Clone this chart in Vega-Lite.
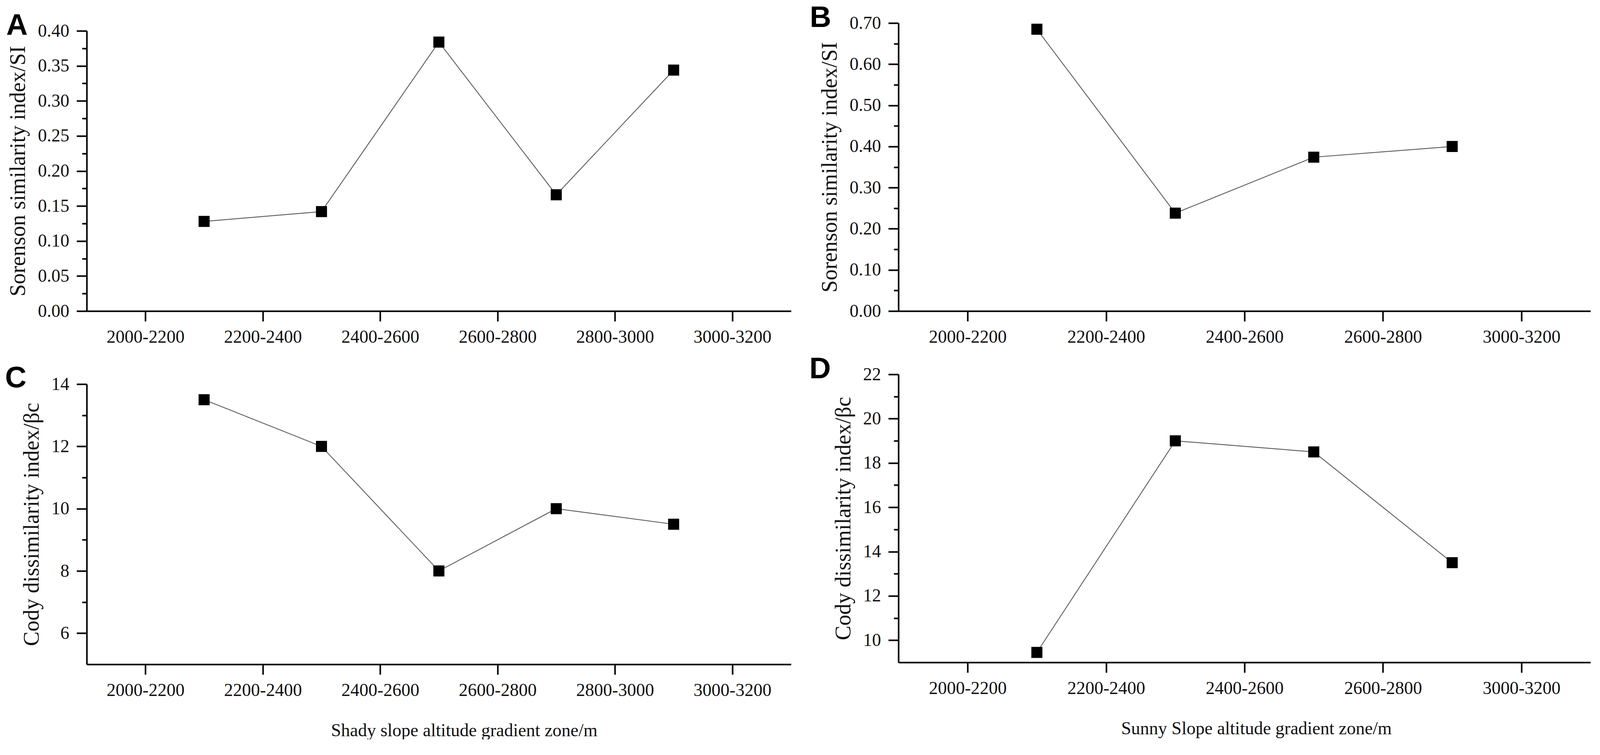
{
  "$schema": "https://vega.github.io/schema/vega-lite/v6.json",
  "background": "white",
  "padding": {"left": 13, "top": 8, "right": 0, "bottom": 0},
  "datasets": {
    "shadySI": [
      {"boundary": 2200, "value": 0.128},
      {"boundary": 2400, "value": 0.142},
      {"boundary": 2600, "value": 0.384},
      {"boundary": 2800, "value": 0.166},
      {"boundary": 3000, "value": 0.344}
    ],
    "sunnySI": [
      {"boundary": 2200, "value": 0.685},
      {"boundary": 2400, "value": 0.238},
      {"boundary": 2600, "value": 0.374},
      {"boundary": 2800, "value": 0.400}
    ],
    "shadyBeta": [
      {"boundary": 2200, "value": 13.5},
      {"boundary": 2400, "value": 12.0},
      {"boundary": 2600, "value": 8.0},
      {"boundary": 2800, "value": 10.0},
      {"boundary": 3000, "value": 9.5}
    ],
    "sunnyBeta": [
      {"boundary": 2200, "value": 9.45},
      {"boundary": 2400, "value": 19.0},
      {"boundary": 2600, "value": 18.5},
      {"boundary": 2800, "value": 13.5}
    ]
  },
  "columns": 2,
  "bounds": "flush",
  "spacing": {"row": 162, "column": 275},
  "concat": [
    {
      "width": 1803, "height": 737,
      "title": {"text": "A", "dx": -206},
      "data": {"name": "shadySI"},
      "layer": [
        {
          "mark": {"type": "line", "color": "#5a5a5a", "strokeWidth": 2.2},
          "encoding": {
            "x": {"field": "boundary", "type": "quantitative",
              "scale": {"domain": [2000, 3200], "nice": false, "zero": false},
              "axis": {"values": [2100, 2300, 2500, 2700, 2900, 3100], "labelExpr": "(datum.value - 100) + '-' + (datum.value + 100)", "title": null}},
            "y": {"field": "value", "type": "quantitative",
              "scale": {"domain": [0, 0.4], "nice": false, "zero": false, "rangeMax": 20},
              "axis": {"values": [0, 0.05, 0.1, 0.15, 0.2, 0.25, 0.3, 0.35, 0.4], "format": ".2f", "title": "Sorenson similarity index/SI"}}
          }
        },
        {
          "mark": {"type": "square", "size": 800, "color": "black", "opacity": 1, "filled": true},
          "encoding": {
            "x": {"field": "boundary", "type": "quantitative"},
            "y": {"field": "value", "type": "quantitative",
              "axis": {"orient": "left", "values": [0.025, 0.075, 0.125, 0.175, 0.225, 0.275, 0.325, 0.375], "labels": false, "domain": false, "tickSize": 12, "title": null}}
          }
        }
      ],
      "resolve": {"axis": {"y": "independent"}}
    },
    {
      "width": 1772, "height": 737,
      "title": {"text": "B", "dx": -227},
      "data": {"name": "sunnySI"},
      "layer": [
        {
          "mark": {"type": "line", "color": "#5a5a5a", "strokeWidth": 2.2},
          "encoding": {
            "x": {"field": "boundary", "type": "quantitative",
              "scale": {"domain": [2000, 3000], "nice": false, "zero": false},
              "axis": {"values": [2100, 2300, 2500, 2700, 2900], "labelExpr": "datum.value == 2900 ? '3000-3200' : (datum.value - 100) + '-' + (datum.value + 100)", "title": null}},
            "y": {"field": "value", "type": "quantitative",
              "scale": {"domain": [0, 0.7], "nice": false, "zero": false},
              "axis": {"values": [0, 0.1, 0.2, 0.3, 0.4, 0.5, 0.6, 0.7], "format": ".2f", "title": "Sorenson similarity index/SI"}}
          }
        },
        {
          "mark": {"type": "square", "size": 800, "color": "black", "opacity": 1, "filled": true},
          "encoding": {
            "x": {"field": "boundary", "type": "quantitative"},
            "y": {"field": "value", "type": "quantitative",
              "axis": {"orient": "left", "values": [0.05, 0.15, 0.25, 0.35, 0.45, 0.55, 0.65], "labels": false, "domain": false, "tickSize": 12, "title": null}}
          }
        }
      ],
      "resolve": {"axis": {"y": "independent"}}
    },
    {
      "width": 1803, "height": 742,
      "title": {"text": "C", "dx": -209},
      "data": {"name": "shadyBeta"},
      "layer": [
        {
          "mark": {"type": "line", "color": "#5a5a5a", "strokeWidth": 2.2},
          "encoding": {
            "x": {"field": "boundary", "type": "quantitative",
              "scale": {"domain": [2000, 3200], "nice": false, "zero": false},
              "axis": {"values": [2100, 2300, 2500, 2700, 2900, 3100], "labelExpr": "(datum.value - 100) + '-' + (datum.value + 100)", "title": "Shady slope altitude gradient zone/m", "titleX": 966}},
            "y": {"field": "value", "type": "quantitative",
              "scale": {"domain": [5, 14], "nice": false, "zero": false, "rangeMax": 25},
              "axis": {"values": [6, 8, 10, 12, 14], "title": "Cody dissimilarity index/βc"}}
          }
        },
        {
          "mark": {"type": "square", "size": 800, "color": "black", "opacity": 1, "filled": true},
          "encoding": {
            "x": {"field": "boundary", "type": "quantitative"},
            "y": {"field": "value", "type": "quantitative",
              "axis": {"orient": "left", "values": [7, 9, 11, 13], "labels": false, "domain": false, "tickSize": 12, "title": null}}
          }
        }
      ],
      "resolve": {"axis": {"y": "independent"}}
    },
    {
      "width": 1772, "height": 737,
      "title": {"text": "D", "dx": -228},
      "data": {"name": "sunnyBeta"},
      "layer": [
        {
          "mark": {"type": "line", "color": "#5a5a5a", "strokeWidth": 2.2},
          "encoding": {
            "x": {"field": "boundary", "type": "quantitative",
              "scale": {"domain": [2000, 3000], "nice": false, "zero": false},
              "axis": {"values": [2100, 2300, 2500, 2700, 2900], "labelExpr": "datum.value == 2900 ? '3000-3200' : (datum.value - 100) + '-' + (datum.value + 100)", "title": "Sunny Slope altitude gradient zone/m", "titleX": 916}},
            "y": {"field": "value", "type": "quantitative",
              "scale": {"domain": [9, 22], "nice": false, "zero": false},
              "axis": {"values": [10, 12, 14, 16, 18, 20, 22], "title": "Cody dissimilarity index/βc"}}
          }
        },
        {
          "mark": {"type": "square", "size": 800, "color": "black", "opacity": 1, "filled": true},
          "encoding": {
            "x": {"field": "boundary", "type": "quantitative"},
            "y": {"field": "value", "type": "quantitative",
              "axis": {"orient": "left", "values": [11, 13, 15, 17, 19, 21], "labels": false, "domain": false, "tickSize": 12, "title": null}}
          }
        }
      ],
      "resolve": {"axis": {"y": "independent"}}
    }
  ],
  "config": {
    "view": {"stroke": null},
    "title": {"font": "Liberation Sans", "fontSize": 76, "fontWeight": "bold", "color": "black", "anchor": "start", "frame": "group", "baseline": "top", "offset": 50, "dy": 99},
    "axis": {
      "grid": false,
      "domainColor": "black", "domainWidth": 4,
      "tickColor": "black", "tickWidth": 4, "tickSize": 26,
      "labelFont": "Liberation Serif", "labelFontSize": 46, "labelColor": "#111", "labelLimit": 1000,
      "titleFont": "Liberation Serif", "titleFontWeight": "normal", "titleColor": "#111",
      "labelOverlap": false, "labelFlush": false
    },
    "axisX": {"titlePadding": 58, "labelPadding": 18, "titleFontSize": 46},
    "axisY": {"titlePadding": 21, "labelPadding": 19, "titleFontSize": 56}
  }
}
